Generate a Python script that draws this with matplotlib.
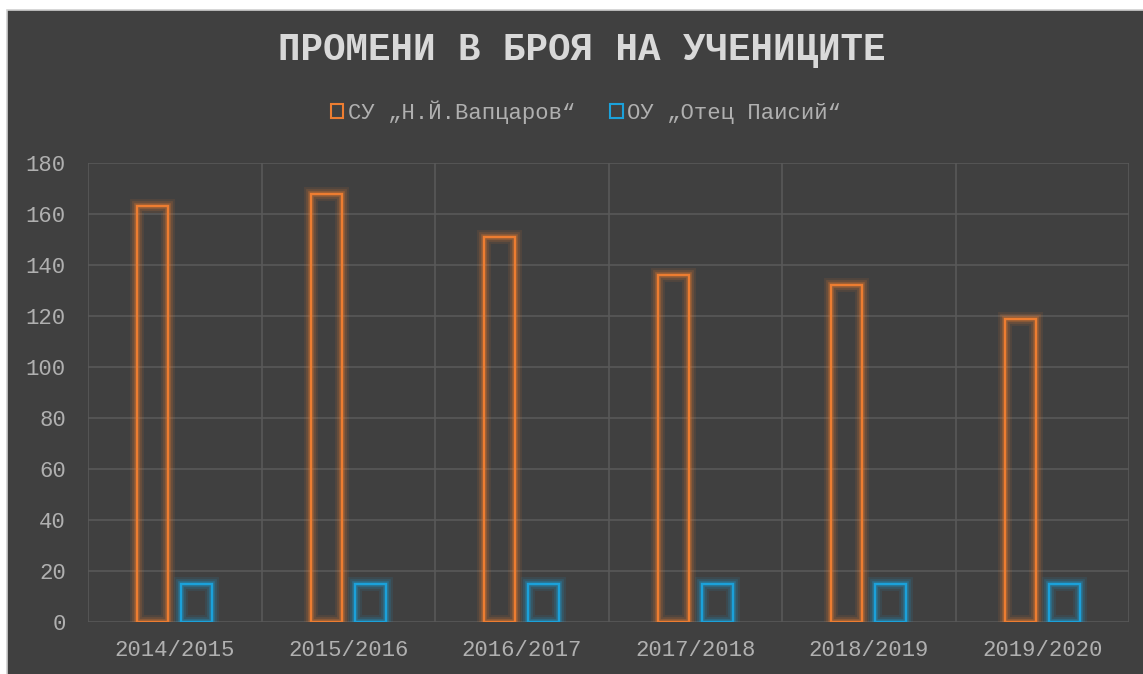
import matplotlib
matplotlib.use("Agg")
import matplotlib.pyplot as plt
import matplotlib.patheffects as pe
from matplotlib.patches import Patch, Rectangle
import numpy as np

# data
years = ["2014/2015", "2015/2016", "2016/2017", "2017/2018", "2018/2019", "2019/2020"]
su_vaptsarov = [163, 168, 151, 136, 132, 119]
ou_paisiy = [15, 15, 15, 15, 15, 15]
series_names = ["СУ „Н.Й.Вапцаров“", "ОУ „Отец Паисий“"]

BG = "#404040"
GRID = "#595959"
TXT = "#B0B0B0"
ORANGE = "#ED7D31"
BLUE = "#1BA1DA"
FONT = ["Liberation Mono", "DejaVu Sans Mono"]

plt.rcParams['font.family'] = FONT

fig = plt.figure(figsize=(11.43, 6.74), dpi=100)
fig.patch.set_facecolor("white")
# dark chart area with a thin light border (white strip on top and left)
fig.add_artist(Rectangle((6.5 / 1143, -0.05), 1.1, 1.05 - 9.5 / 674,
                         transform=fig.transFigure, facecolor=BG,
                         edgecolor="#D0D0D0", linewidth=1.2, zorder=0))

ax = fig.add_axes([88 / 1143, 1 - 622 / 674, (1129 - 88) / 1143, (622 - 163) / 674])
ax.set_facecolor(BG)
ax.patch.set_alpha(0)

x = np.arange(len(years))
w = 0.18
off = 0.127


def glow(color):
    return [pe.Stroke(linewidth=10, foreground=color, alpha=0.10),
            pe.Stroke(linewidth=7, foreground=color, alpha=0.16),
            pe.Stroke(linewidth=4, foreground=color, alpha=0.30),
            pe.Normal()]


b1 = ax.bar(x - off, su_vaptsarov, width=w, facecolor="none",
            edgecolor=ORANGE, linewidth=1.7, zorder=3)
b2 = ax.bar(x + off, ou_paisiy, width=w, facecolor="none",
            edgecolor=BLUE, linewidth=1.7, zorder=3)
for r in b1:
    r.set_path_effects(glow(ORANGE))
for r in b2:
    r.set_path_effects(glow(BLUE))

ax.set_xlim(-0.5, len(years) - 0.5)
ax.set_ylim(0, 180)
ax.set_yticks(range(0, 181, 20))
ax.set_xticks(x)
ax.set_xticklabels(years)
ax.set_xticks(np.arange(-0.5, len(years), 1.0), minor=True)

ax.grid(axis="y", which="major", color=GRID, linewidth=1.2, zorder=0)
ax.grid(axis="x", which="minor", color=GRID, linewidth=1.2, zorder=0)
ax.grid(axis="x", which="major", visible=False)
ax.set_axisbelow(True)

for s in ax.spines.values():
    s.set_visible(False)
ax.tick_params(which="both", length=0)
ax.tick_params(axis="y", labelsize=16, colors=TXT, pad=16)
ax.tick_params(axis="x", labelsize=16, colors=TXT, pad=13)

fig.text(582 / 1143, 1 - 50 / 674, "ПРОМЕНИ В БРОЯ НА УЧЕНИЦИТЕ",
         ha="center", va="center", fontsize=27, fontweight="bold",
         color="#D9D9D9", family=FONT)

handles = [Patch(facecolor="none", edgecolor=ORANGE, linewidth=1.5),
           Patch(facecolor="none", edgecolor=BLUE, linewidth=1.5)]
fig.legend(handles, series_names, loc="center", bbox_to_anchor=(586 / 1143, 1 - 112 / 674),
           ncol=2, frameon=False, fontsize=16, labelcolor=TXT,
           handlelength=0.55, handleheight=0.55, handletextpad=0.2, columnspacing=1.6)

fig.savefig("out.png", dpi=100, facecolor=fig.get_facecolor())
